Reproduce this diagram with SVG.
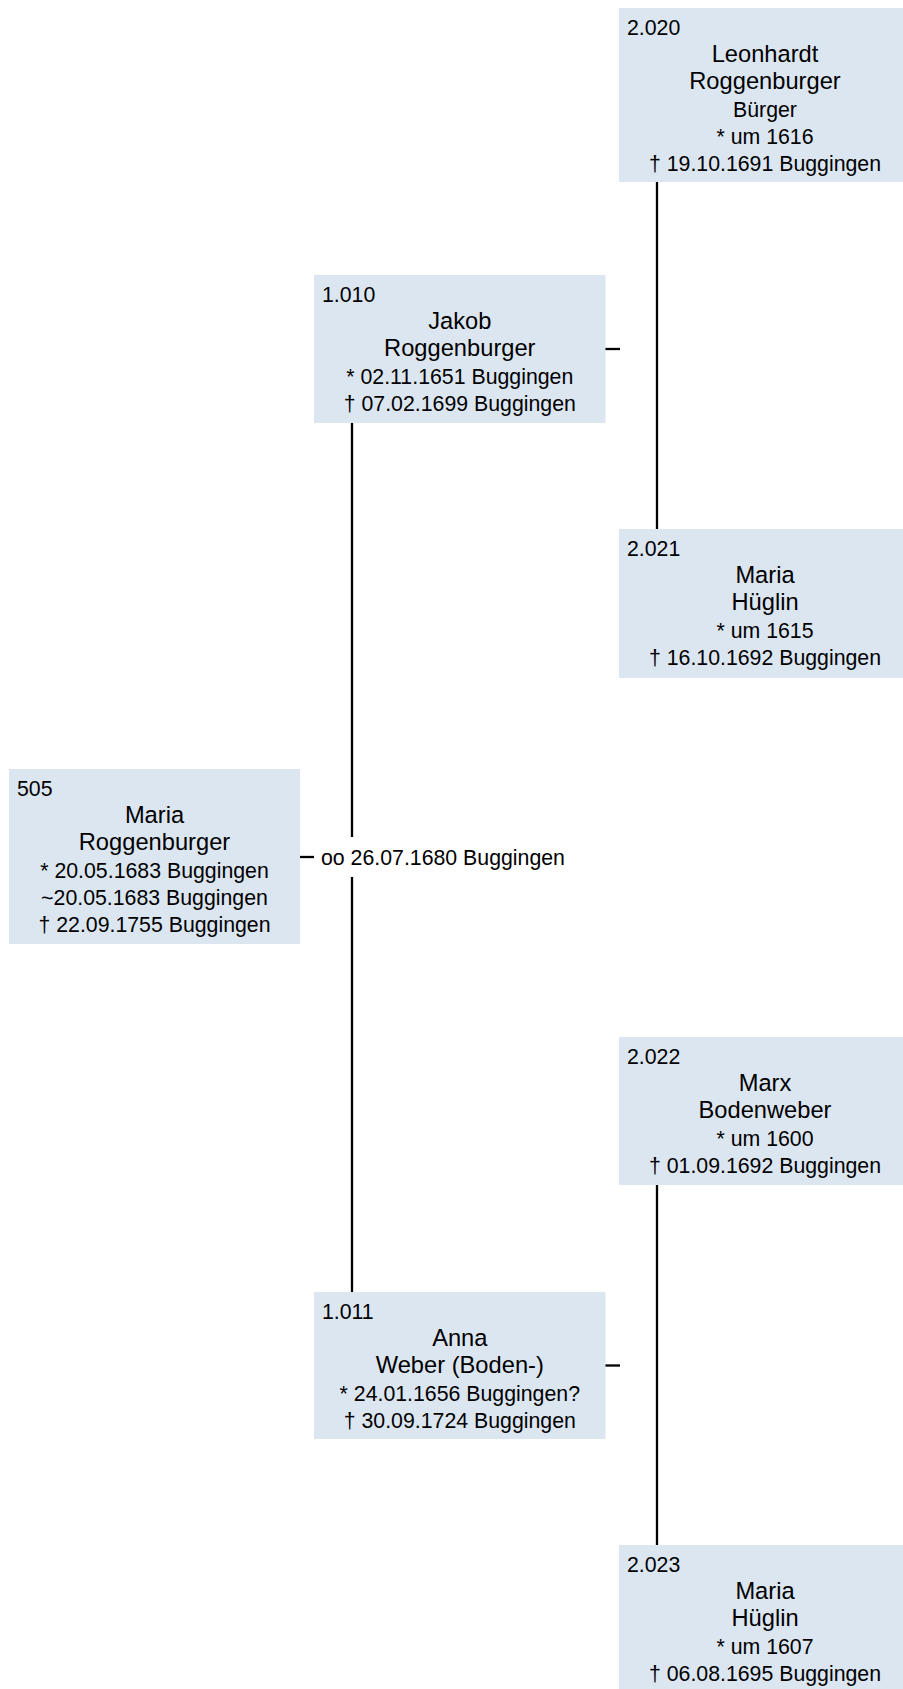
<svg xmlns="http://www.w3.org/2000/svg" width="903" height="1689" viewBox="0 0 903 1689">
<style>
.box{fill:#dce6f1;}
text{font-family:"Liberation Sans",Arial,sans-serif;fill:#000;}
.num{font-size:21.3px;}
.nm{font-size:23.7px;text-anchor:middle;}
.dt{font-size:21.3px;text-anchor:middle;}
.ln{stroke:#000;stroke-width:2.3;fill:none;}
</style>
<rect width="903" height="1689" fill="#fff"/>
<g id="connectors">
<line class="ln" x1="657" y1="182" x2="657" y2="529"/>
<line class="ln" x1="605" y1="349" x2="620" y2="349"/>
<line class="ln" x1="352" y1="423" x2="352" y2="837"/>
<line class="ln" x1="352" y1="877" x2="352" y2="1292"/>
<line class="ln" x1="300" y1="857" x2="314" y2="857"/>
<line class="ln" x1="657" y1="1185" x2="657" y2="1545"/>
<line class="ln" x1="605" y1="1365.5" x2="620" y2="1365.5"/>
<text x="321" y="865" font-size="21.3">oo 26.07.1680 Buggingen</text>
</g>
<g id="n2020">
<rect class="box" x="619" y="8" width="292" height="174"/>
<text class="num" x="627" y="35">2.020</text>
<text class="nm" x="765" y="62.2">Leonhardt</text>
<text class="nm" x="765" y="89.4">Roggenburger</text>
<text class="dt" x="765" y="116.6">Bürger</text>
<text class="dt" x="765" y="143.8">* um 1616</text>
<text class="dt" x="765" y="171">† 19.10.1691 Buggingen</text>
</g>
<g id="n1010">
<rect class="box" x="314" y="275" width="291.5" height="148"/>
<text class="num" x="322" y="302">1.010</text>
<text class="nm" x="459.8" y="329.2">Jakob</text>
<text class="nm" x="459.8" y="356.4">Roggenburger</text>
<text class="dt" x="459.8" y="383.6">* 02.11.1651 Buggingen</text>
<text class="dt" x="459.8" y="410.8">† 07.02.1699 Buggingen</text>
</g>
<g id="n2021">
<rect class="box" x="619" y="529" width="292" height="149"/>
<text class="num" x="627" y="556">2.021</text>
<text class="nm" x="765" y="583.2">Maria</text>
<text class="nm" x="765" y="610.4">Hüglin</text>
<text class="dt" x="765" y="637.6">* um 1615</text>
<text class="dt" x="765" y="664.8">† 16.10.1692 Buggingen</text>
</g>
<g id="n505">
<rect class="box" x="9" y="769" width="291" height="175"/>
<text class="num" x="17" y="796">505</text>
<text class="nm" x="154.5" y="823.2">Maria</text>
<text class="nm" x="154.5" y="850.4">Roggenburger</text>
<text class="dt" x="154.5" y="877.6">* 20.05.1683 Buggingen</text>
<text class="dt" x="154.5" y="904.8">~20.05.1683 Buggingen</text>
<text class="dt" x="154.5" y="932">† 22.09.1755 Buggingen</text>
</g>
<g id="n2022">
<rect class="box" x="619" y="1037" width="292" height="148"/>
<text class="num" x="627" y="1064">2.022</text>
<text class="nm" x="765" y="1091.2">Marx</text>
<text class="nm" x="765" y="1118.4">Bodenweber</text>
<text class="dt" x="765" y="1145.6">* um 1600</text>
<text class="dt" x="765" y="1172.8">† 01.09.1692 Buggingen</text>
</g>
<g id="n1011">
<rect class="box" x="314" y="1292" width="291.5" height="147"/>
<text class="num" x="322" y="1319">1.011</text>
<text class="nm" x="459.8" y="1346.2">Anna</text>
<text class="nm" x="459.8" y="1373.4">Weber (Boden-)</text>
<text class="dt" x="459.8" y="1400.6">* 24.01.1656 Buggingen?</text>
<text class="dt" x="459.8" y="1427.8">† 30.09.1724 Buggingen</text>
</g>
<g id="n2023">
<rect class="box" x="619" y="1545" width="292" height="148"/>
<text class="num" x="627" y="1572">2.023</text>
<text class="nm" x="765" y="1599.2">Maria</text>
<text class="nm" x="765" y="1626.4">Hüglin</text>
<text class="dt" x="765" y="1653.6">* um 1607</text>
<text class="dt" x="765" y="1680.8">† 06.08.1695 Buggingen</text>
</g>
</svg>
